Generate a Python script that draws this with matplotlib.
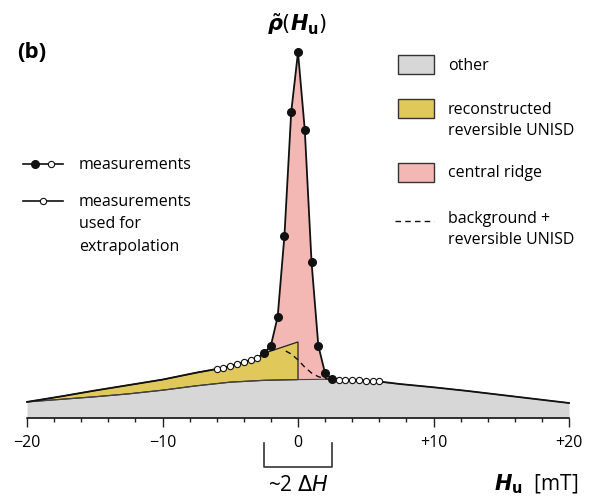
import numpy as np
import matplotlib
matplotlib.use("Agg")
from matplotlib import pyplot as plt
from matplotlib.patches import Rectangle, Polygon
from matplotlib.lines import Line2D

plt.rcParams['font.family'] = ['Open Sans', 'DejaVu Sans']
plt.rcParams['mathtext.fontset'] = 'custom'
plt.rcParams['mathtext.rm'] = 'DejaVu Sans'
plt.rcParams['mathtext.it'] = 'DejaVu Sans:italic'
plt.rcParams['mathtext.bf'] = 'DejaVu Sans:bold'
plt.rcParams['mathtext.bfit'] = 'DejaVu Sans:italic:bold'

# background ("other") curve, H_u in mT, density in arbitrary units (peak = 1)
x_bg = [-20, -17.5, -15, -12.5, -10, -7.5, -5, -2.5, 0, 2.5, 5, 7.5, 10, 12.5, 15, 17.5, 20]
other = [0.044, 0.051, 0.058, 0.066, 0.076, 0.088, 0.098, 0.103, 0.105, 0.106, 0.102,
         0.093, 0.084, 0.074, 0.063, 0.052, 0.041]

# total (top of yellow) far left
x_left = [-20, -17.5, -15, -12.5, -10, -7.5]
total_left = [0.044, 0.059, 0.075, 0.090, 0.105, 0.124]

# measurements used for extrapolation
x_ext_l = [-6, -5.5, -5, -4.5, -4, -3.5, -3]
y_ext_l = [0.134, 0.138, 0.142, 0.148, 0.153, 0.159, 0.164]
x_ext_r = [3, 3.5, 4, 4.5, 5, 5.5, 6]
y_ext_r = [0.105, 0.104, 0.104, 0.103, 0.102, 0.101, 0.100]

# measurements (central ridge)
x_meas = [-2.5, -2, -1.5, -1, -0.5, 0, 0.5, 1, 1.5, 2, 2.5]
y_meas = [0.177, 0.198, 0.277, 0.499, 0.837, 1.0, 0.788, 0.426, 0.198, 0.122, 0.107]

# reconstructed reversible UNISD tip and dashed background + reversible
tip = 0.208
x_dash = [-0.9, -0.5, 0, 0.5, 1.0, 1.5, 2.0, 2.5]
y_dash = [0.183, 0.175, 0.159, 0.139, 0.123, 0.113, 0.108, 0.105]

c_gray = '#d7d7d7'
c_yel = '#e0c85a'
c_pink = '#f4b8b4'
ink = '#111111'

W, H = 592, 502
fig = plt.figure(figsize=(5.92, 5.02), dpi=100)
ax = fig.add_axes([0, 83 / H, 1, 419 / H])
ax.set_xlim(-20 - 27 / 13.55, 20 + 23 / 13.55)
ax.set_ylim(0, 419 / 365.7)
for s in ['top', 'left', 'right']:
    ax.spines[s].set_visible(False)
ax.spines['bottom'].set_bounds(-20, 20)
ax.spines['bottom'].set_linewidth(1.1)
ax.set_yticks([])
ax.set_xticks([-20, -10, 0, 10, 20])
ax.set_xticklabels(['\u221220', '\u221210', '0', '+10', '+20'], fontsize=11.5)
ax.set_xticks(np.arange(-20, 21, 2), minor=True)
ax.tick_params(axis='x', which='major', length=6.5, width=1.0, pad=5, color='#222')
ax.tick_params(axis='x', which='minor', length=3, width=1.0, color='#222')

def fx(px):
    return px / W

def fy(py):
    return 1 - py / H

# gray area
ax.fill_between(x_bg, 0, other, color=c_gray, lw=0, zorder=1)
ax.plot(x_bg, other, color='#444', lw=0.8, zorder=4)

# pink central ridge
i0 = x_bg.index(0)
i25 = x_bg.index(2.5)
pink_pts = list(zip(x_meas, y_meas)) + [(2.5, other[i25]), (0, other[i0]), (0, tip)]
ax.add_patch(Polygon(pink_pts, closed=True, fc=c_pink, ec='none', zorder=2))

# yellow reconstructed reversible part
yel_top = list(zip(x_left + x_ext_l + [-2.5, 0], total_left + y_ext_l + [y_meas[0], tip]))
yel_bot = [(x, y) for x, y in zip(x_bg[:i0 + 1], other[:i0 + 1])][::-1]
ax.add_patch(Polygon(yel_top + yel_bot, closed=True, fc=c_yel, ec='#222', lw=0.9, zorder=3))

# dashed background + reversible
ax.plot(x_dash, y_dash, color=ink, lw=1.0, ls=(0, (4, 3)), zorder=5)

# envelope line through the measurements
x_env = x_left + x_ext_l + x_meas + x_ext_r + x_bg[x_bg.index(7.5):]
y_env = total_left + y_ext_l + y_meas + y_ext_r + other[x_bg.index(7.5):]
ax.plot(x_env, y_env, color=ink, lw=1.3, zorder=6)
ax.plot(x_meas, y_meas, 'o', ms=5.5, color=ink, zorder=7)
ax.plot(x_ext_l + x_ext_r, y_ext_l + y_ext_r, 'o', ms=4.5, mfc='white', mec=ink,
        mew=0.8, zorder=7)

# titles and labels
fig.text(fx(17), fy(53), '(b)', fontsize=16, fontweight='bold', ha='left', va='center')
fig.text(fx(297), fy(24), r'$\tilde{\mathbfit{\rho}}(\mathbfit{H}_{\mathbf{u}})$',
         fontsize=15, ha='center', va='center')
fig.text(fx(578), fy(484), r'$\mathbfit{H}_{\mathbf{u}}$  [mT]', fontsize=15,
         ha='right', va='center')
fig.text(fx(298), fy(486), r'~2 $\Delta\mathit{H}$', fontsize=15, ha='center', va='center')
fig.add_artist(Line2D([fx(264), fx(264), fx(332), fx(332)],
                      [fy(444), fy(468), fy(468), fy(444)],
                      transform=fig.transFigure, color='#333', lw=1.2))

# left legend
fig.add_artist(Line2D([fx(23), fx(63)], [fy(165), fy(165)], transform=fig.transFigure,
                      color=ink, lw=1.2))
fig.add_artist(Line2D([fx(35)], [fy(165)], transform=fig.transFigure, marker='o',
                      ms=5.5, color=ink))
fig.add_artist(Line2D([fx(51)], [fy(165)], transform=fig.transFigure, marker='o',
                      ms=4.5, mfc='white', mec=ink, mew=0.8))
fig.add_artist(Line2D([fx(23), fx(63)], [fy(202), fy(202)], transform=fig.transFigure,
                      color=ink, lw=1.2))
fig.add_artist(Line2D([fx(43)], [fy(202)], transform=fig.transFigure, marker='o',
                      ms=4.5, mfc='white', mec=ink, mew=0.8))
fig.text(fx(79), fy(165), 'measurements', fontsize=11.5, va='center')
fig.text(fx(79), fy(202), 'measurements', fontsize=11.5, va='center')
fig.text(fx(79), fy(224), 'used for', fontsize=11.5, va='center')
fig.text(fx(79), fy(247), 'extrapolation', fontsize=11.5, va='center')

# right legend
for top, col in [(56, c_gray), (100, c_yel), (164, c_pink)]:
    fig.add_artist(Rectangle((fx(398), fy(top + 19)), 36 / W, 19 / H,
                             transform=fig.transFigure, fc=col, ec='#333', lw=1.0))
fig.add_artist(Line2D([fx(395), fx(434)], [fy(222), fy(222)], transform=fig.transFigure,
                      color=ink, lw=1.0, ls=(0, (4, 3))))
fig.text(fx(448), fy(66), 'other', fontsize=11.5, va='center')
fig.text(fx(448), fy(110), 'reconstructed', fontsize=11.5, va='center')
fig.text(fx(448), fy(131), 'reversible UNISD', fontsize=11.5, va='center')
fig.text(fx(448), fy(173), 'central ridge', fontsize=11.5, va='center')
fig.text(fx(448), fy(219), 'background +', fontsize=11.5, va='center')
fig.text(fx(448), fy(240), 'reversible UNISD', fontsize=11.5, va='center')

fig.savefig('out.png', dpi=100)
